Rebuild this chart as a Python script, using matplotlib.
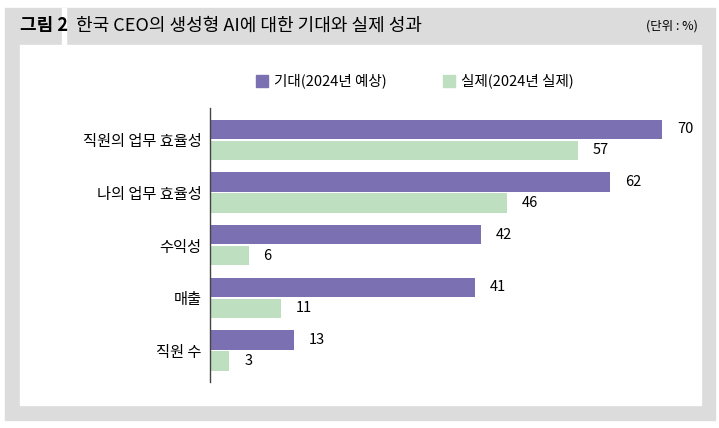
import matplotlib
matplotlib.use("Agg")
import matplotlib.pyplot as plt
from matplotlib.patches import Rectangle
from matplotlib import font_manager as fm

names = sorted({f.name for f in fm.fontManager.ttflist if 'CJK' in f.name})
pref = [n for n in names if 'KR' in n] or names
plt.rcParams['font.family'] = [pref[0] if pref else 'Noto Sans CJK KR', 'DejaVu Sans']

categories = ["직원의 업무 효율성", "나의 업무 효율성", "수익성", "매출", "직원 수"]
expected = [70, 62, 42, 41, 13]
actual = [57, 46, 6, 11, 3]
series_names = ["기대(2024년 예상)", "실제(2024년 실제)"]
title = "한국 CEO의 생성형 AI에 대한 기대와 실제 성과"

W, H = 719, 428
fig = plt.figure(figsize=(W/100, H/100), dpi=100)
fig.patch.set_facecolor('white')

gray = '#dcdcdc'
for (x, y, w, h, c) in [(5, 8, 710, 412, gray), (20, 45, 681, 360, 'white'), (62, 8, 4, 36, 'white')]:
    fig.patches.append(Rectangle((x/W, 1-(y+h)/H), w/W, h/H, transform=fig.transFigure, color=c, zorder=-10))

fig.text(20/W, 1-26/H, "그림 2", fontsize=13, fontweight='bold', va='center', ha='left')
fig.text(76/W, 1-26/H, title, fontsize=13, va='center', ha='left')
fig.text(698/W, 1-26/H, "(단위 : %)", fontsize=9, va='center', ha='right')

purple = '#7b70b2'
green = '#bfe0c0'
fig.patches.append(Rectangle((256/W, 1-87/H), 12/W, 12/H, transform=fig.transFigure, color=purple))
fig.text(274/W, 1-81/H, series_names[0], fontsize=10.5, va='center')
fig.patches.append(Rectangle((443/W, 1-87/H), 12/W, 12/H, transform=fig.transFigure, color=green))
fig.text(461/W, 1-81/H, series_names[1], fontsize=10.5, va='center')

ax = fig.add_axes((210/W, 1-382/H, 452/W, 273.6/H), zorder=5)
ax.set_facecolor('none')
pos = list(range(len(categories)))
h = 0.37
ax.barh([p-0.2 for p in pos], expected, height=h, color=purple)
ax.barh([p+0.2 for p in pos], actual, height=h, color=green)
for p, e, a in zip(pos, expected, actual):
    ax.text(e+2.3, p-0.2, str(e), va='center', ha='left', fontsize=10.5)
    ax.text(a+2.3, p+0.2, str(a), va='center', ha='left', fontsize=10.5)
ax.set_xlim(0, 70)
ax.set_ylim(4.6, -0.6)
ax.set_yticks(pos)
ax.set_yticklabels(categories, fontsize=11)
ax.tick_params(axis='y', length=0, pad=6)
ax.set_xticks([])
for s in ['top', 'right', 'bottom']:
    ax.spines[s].set_visible(False)
ax.spines['left'].set_color('#444444')
ax.spines['left'].set_linewidth(1.0)
fig.savefig('out.png', dpi=100)
